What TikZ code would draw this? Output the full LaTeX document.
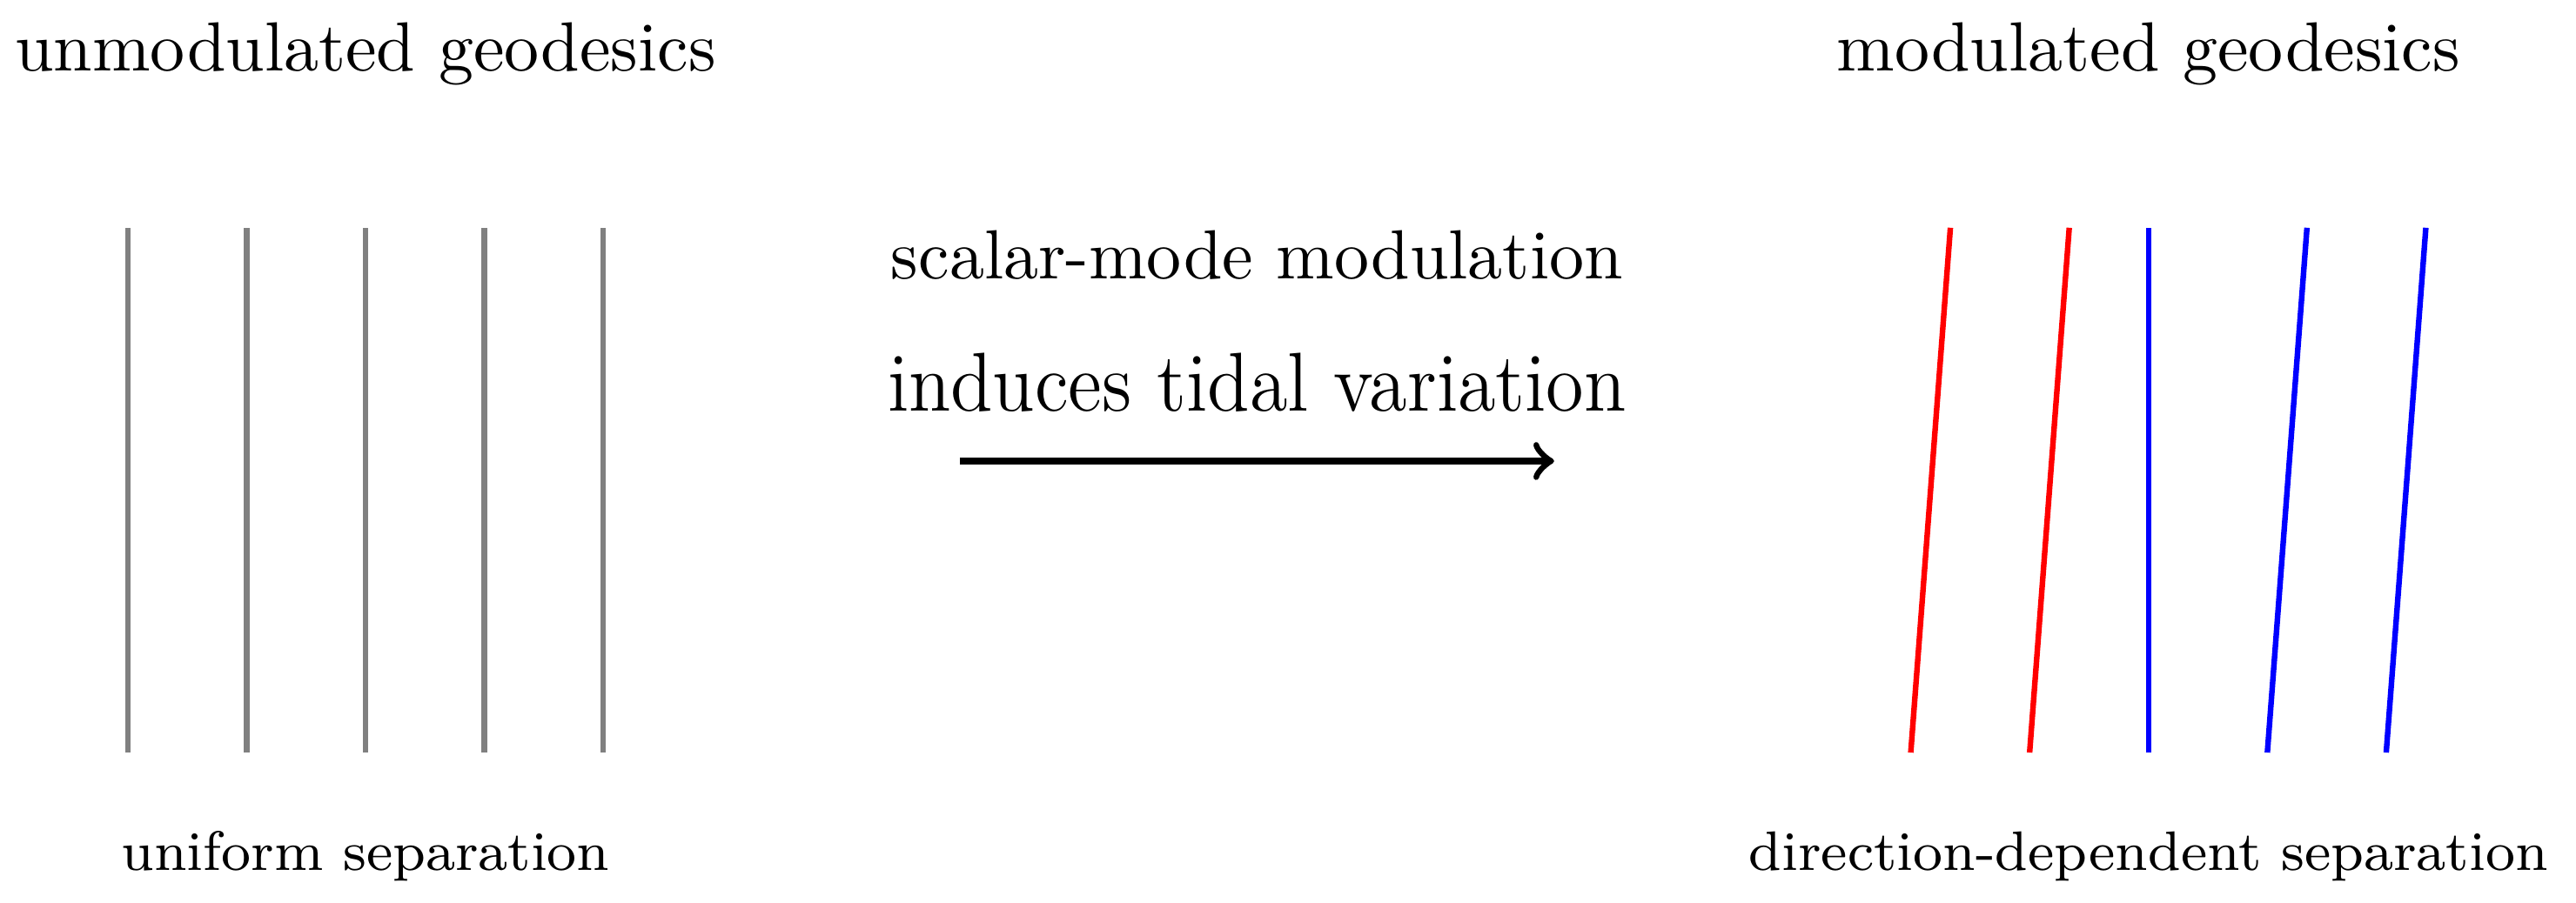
\documentclass[tikz,border=0pt]{standalone}
\usepackage{tikz}
\usepackage{xcolor}
\usetikzlibrary{arrows, positioning}

\tikzset{
  geo/.style={thick},
  heading/.style={anchor=base, inner sep=0pt},
  note/.style={anchor=base, inner sep=0pt, font=\footnotesize}
}

\begin{document}
\begin{tikzpicture}
\useasboundingbox (-1.845,-0.756) rectangle (11.158,3.800);

\node[heading] (unmod) at (0, 3.44) {unmodulated geodesics};
\node[heading] (mod) at (9, 3.44) {modulated geodesics};

% unmodulated family
\draw[geo, gray] (-1.2, 0) -- (-1.2, 2.65);
\draw[geo, gray] (-0.6, 0) -- (-0.6, 2.65);
\draw[geo, gray] (0, 0) -- (0, 2.65);
\draw[geo, gray] (0.6, 0) -- (0.6, 2.65);
\draw[geo, gray] (1.2, 0) -- (1.2, 2.65);

% modulated family
\draw[geo, red] (7.8, 0) -- (8.0, 2.65);
\draw[geo, red] (8.4, 0) -- (8.6, 2.65);
\draw[geo, blue] (9, 0) -- (9, 2.65);
\draw[geo, blue] (9.6, 0) -- (9.8, 2.65);
\draw[geo, blue] (10.2, 0) -- (10.4, 2.65);

\node[heading] (scalar) at (4.5, 2.394) {scalar-mode modulation};
\node[heading, font=\large, xscale=0.925, transform shape] (tidal) at (4.5, 1.726) {induces tidal variation};

\coordinate (arrowL) at (3, 1.472);
\coordinate (arrowR) at (6, 1.472);
\draw[->, line width=1pt] (arrowL) -- (arrowR);

\node[note] (uniform) at (0, -0.593) {uniform separation};
\node[note] (dirdep) at (9, -0.593) {direction-dependent separation};
\end{tikzpicture}
\end{document}
